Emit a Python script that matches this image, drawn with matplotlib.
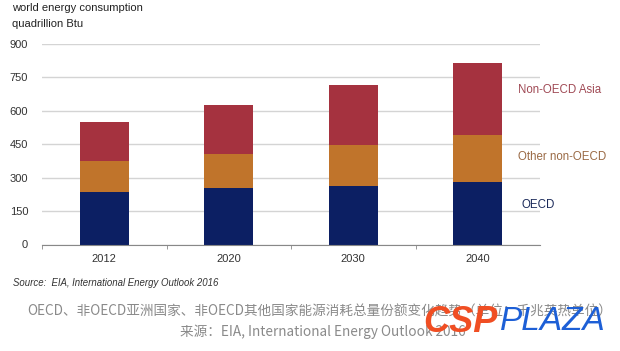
import matplotlib.pyplot as plt
import numpy as np

# world energy consumption, quadrillion Btu
years = ["2012", "2020", "2030", "2040"]
oecd = [236, 252, 264, 279]
other_non_oecd = [137, 154, 184, 211]
non_oecd_asia = [175, 221, 269, 325]

series_names = ["OECD", "Other non-OECD", "Non-OECD Asia"]
bar_colors = ["#0c1f63", "#c0742b", "#a5323f"]
label_colors = ["#1b2a5a", "#9a6a45", "#a04a55"]
y_ticks = [0, 150, 300, 450, 600, 750, 900]

plt.rcParams['font.family'] = ['Liberation Sans', 'DejaVu Sans']

fig = plt.figure(figsize=(6.2, 3.51), dpi=100)
ax = fig.add_axes([42 / 620, 1 - 244.5 / 351, 498 / 620, 200.5 / 351])

x = np.arange(len(years))
bottom = np.zeros(len(years))
for vals, col in zip([oecd, other_non_oecd, non_oecd_asia], bar_colors):
    ax.bar(x, vals, 0.39, bottom=bottom, color=col, zorder=3)
    bottom += np.array(vals)

ax.set_xlim(-0.5, 3.5)
ax.set_ylim(0, 900)
ax.set_yticks(y_ticks)
ax.set_yticklabels([str(v) for v in y_ticks], fontsize=8, color="#333333")
ax.tick_params(axis='y', length=0, pad=10)
ax.set_xticks(x)
ax.set_xticklabels(years, fontsize=8, color="#333333")
ax.tick_params(axis='x', which='major', length=0, pad=7)
ax.set_xticks([-0.5, 0.5, 1.5, 2.5], minor=True)
ax.tick_params(axis='x', which='minor', length=3, color="#888888", direction='out')

ax.grid(axis='y', color="#d4d4d4", linewidth=1, zorder=0)
for s in ['top', 'right', 'left']:
    ax.spines[s].set_visible(False)
ax.spines['bottom'].set_color("#888888")
ax.spines['bottom'].set_zorder(4)

# series labels on the right side
label_pos = [(522, 205), (518, 157), (518, 90)]
for name, col, (px, py) in zip(series_names, label_colors, label_pos):
    fig.text(px / 620, 1 - py / 351, name, fontsize=8.3, color=col, va='center', ha='left')

fig.text(12 / 620, 1 - 8 / 351, "world energy consumption", fontsize=8, color="#222222", va='center')
fig.text(12 / 620, 1 - 24 / 351, "quadrillion Btu", fontsize=8, color="#222222", va='center')
fig.text(13 / 620, 1 - 283 / 351, "Source:  EIA, International Energy Outlook 2016",
         fontsize=6.9, style='italic', color="#333333", va='center')

cjk = ['Noto Sans CJK SC', 'DejaVu Sans']
fig.text(320 / 620, 1 - 312 / 351,
         "OECD、非OECD亚洲国家、非OECD其他国家能源消耗总量份额变化趋势（单位：千兆英热单位）",
         fontsize=9.8, color="#8a8a8a", ha='center', va='center', family=cjk, weight='light')
fig.text(180 / 620, 1 - 332 / 351, "来源：EIA, International Energy Outlook 2016",
         fontsize=9.8, color="#8a8a8a", ha='left', va='center', family=cjk, weight='light')

# watermark
fig.text(423 / 620, 1 - 322 / 351, "CSP", fontsize=26, weight='bold', style='italic',
         color="#f04e23", ha='left', va='center', family=['Liberation Sans'])
fig.text(500 / 620, 1 - 322 / 351, "PLAZA", fontsize=24, style='italic',
         color="#1d5fd6", ha='left', va='center', family=['Liberation Sans'])

fig.savefig("out.png", dpi=100, facecolor='white')
